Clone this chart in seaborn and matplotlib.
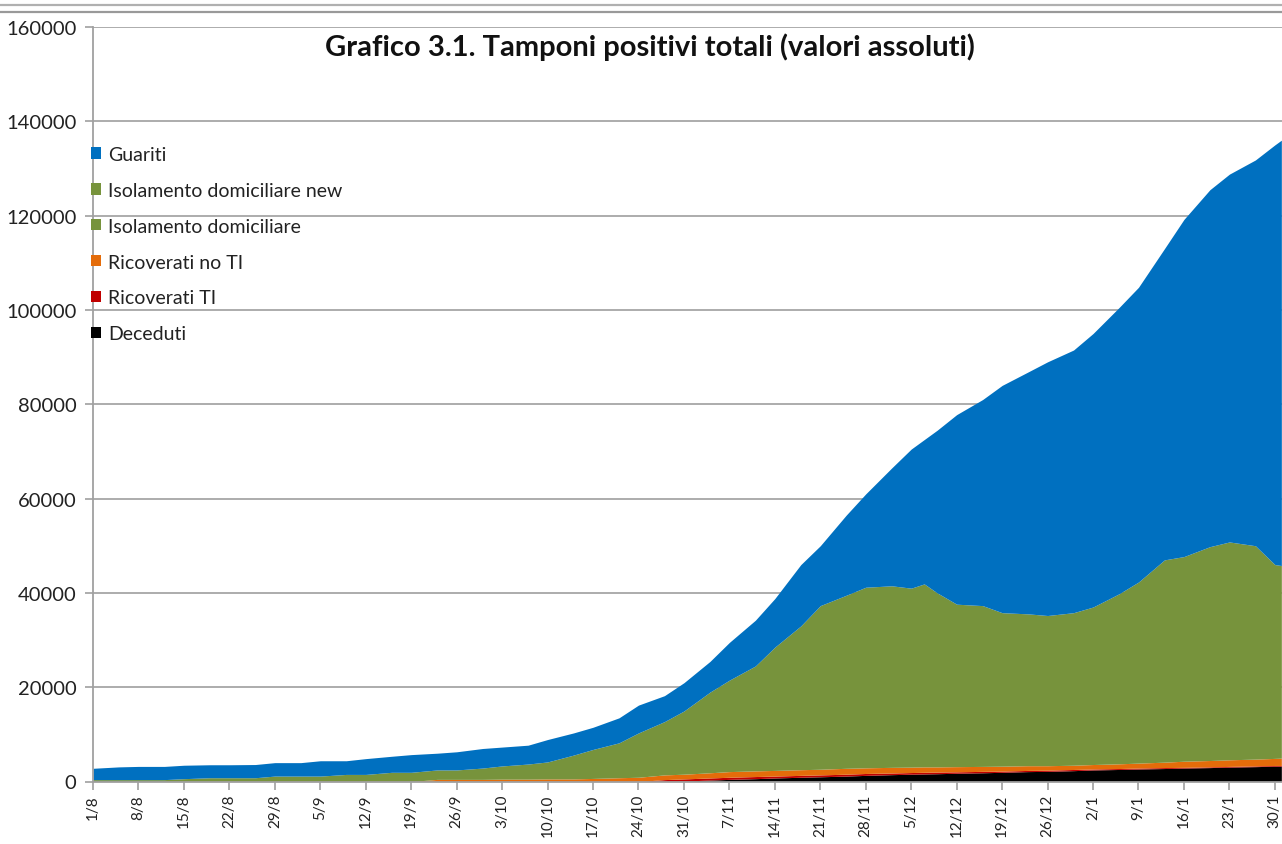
import matplotlib
matplotlib.use("Agg")
import numpy as np
import pandas as pd
import seaborn as sns
import matplotlib.pyplot as plt
from matplotlib.patches import Patch
from matplotlib.lines import Line2D

# ---------------- data ----------------
dates = [
    "2020-08-01", "2020-08-05", "2020-08-08", "2020-08-12", "2020-08-15", "2020-08-19",
    "2020-08-22", "2020-08-26", "2020-08-29", "2020-09-02", "2020-09-05", "2020-09-09",
    "2020-09-12", "2020-09-16", "2020-09-19", "2020-09-23", "2020-09-26", "2020-09-30",
    "2020-10-03", "2020-10-07", "2020-10-10", "2020-10-14", "2020-10-17", "2020-10-21",
    "2020-10-24", "2020-10-28", "2020-10-31", "2020-11-04", "2020-11-07", "2020-11-11",
    "2020-11-14", "2020-11-18", "2020-11-21", "2020-11-25", "2020-11-28", "2020-12-02",
    "2020-12-05", "2020-12-07", "2020-12-09", "2020-12-12", "2020-12-16", "2020-12-19",
    "2020-12-23", "2020-12-26", "2020-12-30", "2021-01-02", "2021-01-06", "2021-01-09",
    "2021-01-13", "2021-01-16", "2021-01-20", "2021-01-23", "2021-01-27", "2021-01-30",
    "2021-01-31",
]

guariti = [
    2400, 2700, 2800, 2800, 2850, 2750, 2750, 2800, 2850, 2850, 3250, 2900,
    3350, 3400, 3750, 3550, 3850, 4150, 4000, 4000, 4750, 4700, 4700, 5300,
    5900, 5500, 6000, 6500, 8000, 9700, 10300, 13000, 12700, 17000, 19800, 25000,
    29500, 30600, 34500, 40200, 43700, 48200, 51300, 53800, 55700, 58000, 60700, 62500,
    66000, 71500, 75700, 78000, 81800, 89000, 90200,
]
isolamento = [
    400, 400, 400, 400, 600, 800, 800, 800, 1150, 1150, 1150, 1500,
    1500, 1950, 1950, 2000, 2000, 2400, 2800, 3200, 3600, 5050, 6150, 7400,
    9400, 11300, 13400, 17100, 19400, 22250, 26150, 30500, 34700, 36700, 38300, 38500,
    37950, 38800, 36900, 34450, 34100, 32550, 32200, 31850, 32350, 33400, 36050, 38400,
    42900, 43400, 45350, 46200, 45250, 41100, 40850,
]
ricoverati_no_ti = [
    0, 0, 0, 0, 0, 0, 0, 0, 0, 0, 0, 0,
    0, 0, 0, 450, 450, 450, 500, 500, 550, 550, 650, 800,
    900, 1000, 1000, 1100, 1200, 1200, 1200, 1200, 1200, 1250, 1200, 1200,
    1150, 1150, 1100, 1100, 1050, 1050, 1000, 950, 900, 950, 1000, 1050,
    1150, 1300, 1350, 1400, 1450, 1500, 1550,
]
ricoverati_ti = [
    0, 0, 0, 0, 0, 0, 0, 0, 0, 0, 0, 0,
    0, 0, 0, 0, 0, 0, 0, 0, 0, 0, 0, 0,
    0, 400, 450, 450, 450, 450, 400, 400, 400, 400, 400, 350,
    350, 350, 350, 300, 300, 250, 250, 250, 250, 200, 200, 200,
    200, 150, 150, 150, 150, 150, 150,
]
deceduti = [
    0, 0, 0, 0, 0, 0, 0, 0, 0, 0, 0, 0,
    0, 0, 0, 0, 0, 0, 0, 0, 0, 0, 0, 0,
    0, 0, 100, 300, 450, 600, 750, 900, 1000, 1150, 1300, 1450,
    1550, 1600, 1650, 1750, 1850, 1950, 2100, 2150, 2300, 2450, 2550, 2650,
    2750, 2850, 2950, 3050, 3150, 3250, 3250,
]

series_names = ["Guariti", "Isolamento domiciliare new", "Isolamento domiciliare",
                "Ricoverati no TI", "Ricoverati TI", "Deceduti"]
series_colors = ["#0070C0", "#77933C", "#77933C", "#E46C0A", "#C00000", "#000000"]
title = "Grafico 3.1. Tamponi positivi totali (valori assoluti)"
y_ticks = [0, 20000, 40000, 60000, 80000, 100000, 120000, 140000, 160000]

# ---------------- figure ----------------
sns.set_theme(style="white")
plt.rcParams["font.family"] = ["Lato", "DejaVu Sans"]

W, H = 1282, 845
fig = plt.figure(figsize=(W / 100, H / 100), dpi=100)
ax = fig.add_axes([93 / W, (H - 782.5) / H, (W - 93) / W, (782.5 - 28) / H])

x = pd.to_datetime(dates)
ax.stackplot(x, deceduti, ricoverati_ti, ricoverati_no_ti, isolamento, guariti,
             colors=["#000000", "#C00000", "#E46C0A", "#77933C", "#0070C0"],
             linewidth=0, zorder=2)

ax.set_ylim(0, 160000)
ax.set_yticks(y_ticks)
ax.set_yticklabels([str(v) for v in y_ticks])
start = pd.Timestamp("2020-08-01")
ax.set_xlim(start, start + pd.Timedelta(days=183.1))
ticks = pd.date_range("2020-08-01", "2021-01-30", freq="7D")
ax.set_xticks(ticks)
ax.set_xticklabels([f"{d.day}/{d.month}" for d in ticks], rotation=90)

ax.grid(axis="y", color="#a6a6a6", linewidth=1.3, zorder=1)
ax.grid(axis="x", visible=False)
ax.set_axisbelow(True)
for side in ["top", "right"]:
    ax.spines[side].set_visible(False)
for side in ["left", "bottom"]:
    ax.spines[side].set_color("#a0a0a0")
    ax.spines[side].set_linewidth(1.3)
    ax.spines[side].set_zorder(3)
ax.tick_params(axis="y", which="major", direction="out", length=6, width=1.2,
               color="#a0a0a0", labelsize=14.5, pad=6, left=True)
ax.tick_params(axis="x", which="major", direction="out", length=6, width=1.2,
               color="#a0a0a0", labelsize=11, pad=3, bottom=True)
for t in ax.get_yticklabels() + ax.get_xticklabels():
    t.set_color("#222222")

# legend
handles = [Patch(facecolor=c, edgecolor="none") for c in series_colors]
leg = ax.legend(handles, series_names, loc="upper left",
                bbox_to_anchor=(91 / W, 1 - 147 / H), bbox_transform=fig.transFigure,
                frameon=False, fontsize=14, handlelength=0.52, handleheight=0.52,
                handletextpad=0.35, labelspacing=0.97, borderpad=0, borderaxespad=0)
for t in leg.get_texts():
    t.set_color("#222222")

# title
fig.text(650 / W, 1 - 47 / H, title, ha="center", va="center",
         fontsize=21, fontweight="bold", color="#111111")

# double rule at the top of the page
for yy, col in [(6, "#b0b0b0"), (13, "#999999")]:
    fig.add_artist(Line2D([0, 1], [1 - yy / H, 1 - yy / H], transform=fig.transFigure,
                          color=col, linewidth=1.6))

fig.savefig("out.png", dpi=100)
